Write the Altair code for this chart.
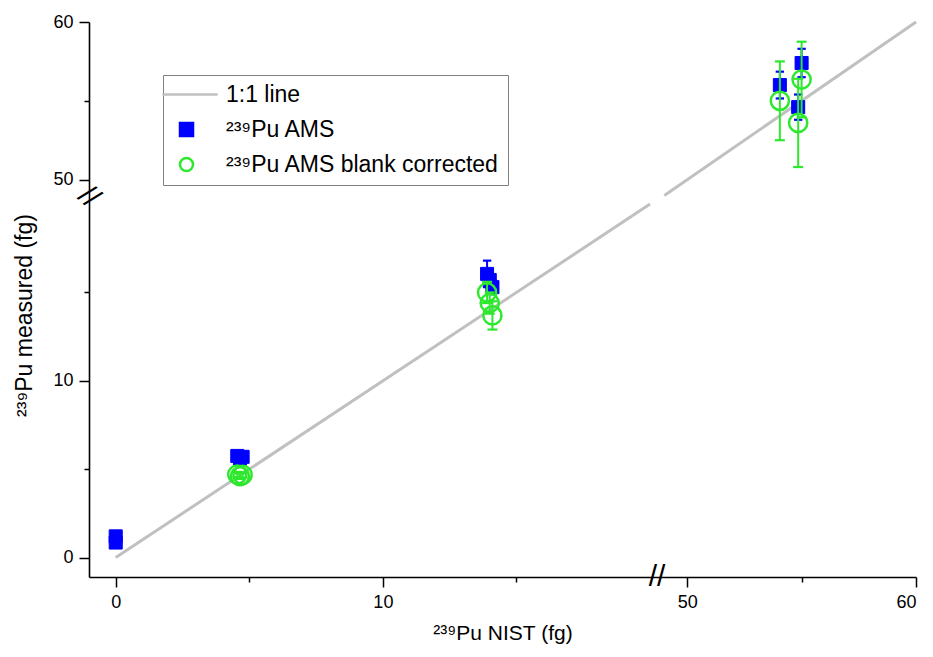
import altair as alt
import pandas as pd

# ---- data -------------------------------------------------------------
SERIES = ["1:1 line", "²³⁹Pu AMS", "²³⁹Pu AMS blank corrected"]
STROKES = ["#c0c0c0", "#0000ff", "#2ee82e"]
FILLS = ["transparent", "#0000ff", "transparent"]
SHAPES = ["M-3.7,0H4.8", "square", "circle"]

line_x = [0, 20, 49, 60]
line_y = [0, 20, 49, 60]
line_seg = ["low", "low", "high", "high"]

ams_x = [0.0, 0.0, 4.55, 4.65, 4.75, 13.9, 14.0, 14.1, 54.05, 55.0, 54.85]
ams_y = [1.2, 0.85, 5.75, 5.6, 5.7, 16.05, 15.7, 15.3, 56.0, 57.4, 54.6]
ams_err = [0.15, 0.15, 0.15, 0.15, 0.15, 0.75, 0.4, 0.4, 0.85, 0.9, 0.8]

cor_x = [4.55, 4.65, 4.75, 13.9, 14.0, 14.1, 54.05, 55.0, 54.85]
cor_y = [4.7, 4.6, 4.68, 15.0, 14.4, 13.7, 55.0, 56.35, 53.6]
cor_err = [0.15, 0.15, 0.15, 0.6, 0.6, 0.8, 2.5, 2.4, 2.8]

x_ticks = [0, 5, 10, 15, 50, 55, 60]
y_ticks = [0, 5, 10, 15, 50, 55, 60]

# broken axes: piecewise linear scales
x_domain = [-1.0, 20.26, 48.68, 60]
y_domain = [-1.1, 20.4, 48.9, 60]

W, H = 827, 555
FONT = "Liberation Sans"

df_line = pd.DataFrame({"x": line_x, "y": line_y, "seg": line_seg, "series": SERIES[0]})
df_ams = pd.DataFrame({"x": ams_x, "y": ams_y, "err": ams_err, "series": SERIES[1]})
df_cor = pd.DataFrame({"x": cor_x, "y": cor_y, "err": cor_err, "series": SERIES[2]})

xs = alt.Scale(domain=x_domain, range=[0, 568, 568, W], nice=False, zero=False)
ys = alt.Scale(domain=y_domain, range=[H, 175, 175, 0], nice=False, zero=False)

minor_test = "datum.value % 10 != 0"
xaxis = alt.Axis(
    values=x_ticks,
    labelExpr=f"{minor_test} ? '' : datum.label",
    tickSize={"condition": {"test": minor_test, "value": 5}, "value": 10},
    title="²³⁹Pu NIST (fg)",
    titleFontSize=21,
    titlePadding=11,
    grid=False,
)
yaxis = alt.Axis(
    values=y_ticks,
    labelExpr=f"{minor_test} ? '' : datum.label",
    tickSize={"condition": {"test": minor_test, "value": 5}, "value": 10},
    title="²³⁹Pu measured (fg)",
    titleFontSize=23,
    titleY=293,
    titlePadding=16,
    grid=False,
)

legend = alt.Legend(
    title=None, orient="none", legendX=74, legendY=53,
    strokeColor="#808080", fillColor="white", padding=8,
    labelFontSize=23, labelFont=FONT, labelColor="black", labelOffset=28,
    symbolSize=169, symbolStrokeWidth=2.5, symbolOffset=4, rowPadding=11, labelLimit=500,
)
stroke_enc = alt.Stroke("series:N", scale=alt.Scale(domain=SERIES, range=STROKES), legend=legend)
fill_enc = alt.Fill("series:N", scale=alt.Scale(domain=SERIES, range=FILLS), legend=legend)
shape_enc = alt.Shape("series:N", scale=alt.Scale(domain=SERIES, range=SHAPES), legend=legend)

X = alt.X("x:Q", scale=xs, axis=xaxis)


def yenc(field):
    return alt.Y(field, type="quantitative", scale=ys, axis=yaxis)


line = alt.Chart(df_line).mark_line(strokeWidth=3).encode(
    x=X, y=yenc("y"), stroke=stroke_enc, detail="seg:N"
)


def errbars(df, color, cap):
    base = alt.Chart(df).transform_calculate(
        lo="datum.y - datum.err", hi="datum.y + datum.err"
    )
    rule = base.mark_rule(color=color, strokeWidth=2).encode(x=X, y=yenc("lo"), y2="hi:Q")
    lo = base.mark_point(shape="stroke", size=cap, strokeWidth=2.2, color=color, opacity=1).encode(x=X, y=yenc("lo"))
    hi = base.mark_point(shape="stroke", size=cap, strokeWidth=2.2, color=color, opacity=1).encode(x=X, y=yenc("hi"))
    return rule + lo + hi


ams_pts = alt.Chart(df_ams).mark_point(size=170, opacity=1, strokeWidth=1).encode(
    x=X, y=yenc("y"), stroke=stroke_enc, fill=fill_enc, shape=shape_enc
)
cor_pts = alt.Chart(df_cor).mark_point(size=330, opacity=1, strokeWidth=2.5).encode(
    x=X, y=yenc("y"), stroke=stroke_enc, fill=fill_enc, shape=shape_enc
)

one = alt.Data(values=[{}])
xbreak = alt.Chart(one).mark_text(text="//", fontSize=30, font=FONT, color="black",
                                  align="center", baseline="middle").encode(
    x=alt.XDatum(34, scale=xs), y=alt.YDatum(-1.1, scale=ys)
)
ybreak = alt.Chart(one).mark_text(text="//", fontSize=30, font=FONT, color="black",
                                  align="center", baseline="middle", angle=43).encode(
    x=alt.XDatum(-1.0, scale=xs), y=alt.YDatum(34, scale=ys)
)

chart = alt.layer(
    line,
    errbars(df_ams, "#0000ff", 70),
    ams_pts,
    errbars(df_cor, "#2ee82e", 100),
    cor_pts,
    xbreak,
    ybreak,
).properties(
    width=W, height=H,
    padding={"left": 81, "top": 14, "right": 9, "bottom": 72},
    autosize=alt.AutoSizeParams(type="none"),
).configure_view(stroke=None).configure_axis(
    domainColor="black", domainWidth=1.6, tickColor="black", tickWidth=1.5,
    labelFont=FONT, labelFontSize=18, labelColor="black", labelPadding=6,
    titleFont=FONT, titleFontWeight="normal", titleColor="black",
)

chart.save("out.html", embed_options={"renderer": "svg", "actions": False})
